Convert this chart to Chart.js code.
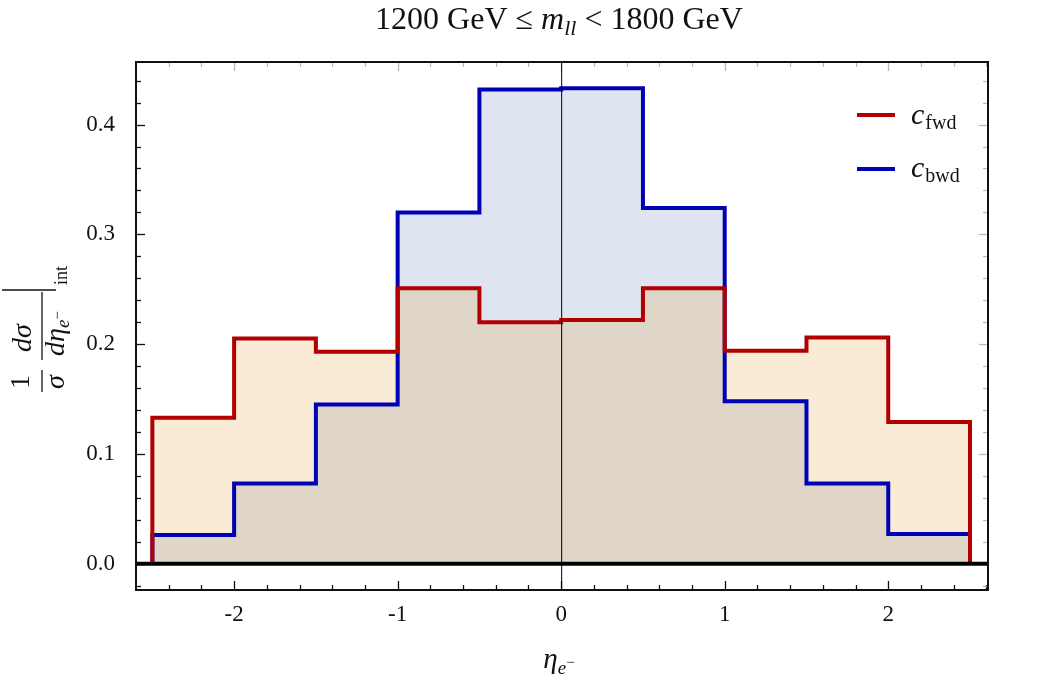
<!DOCTYPE html>
<html>
<head>
<meta charset="utf-8">
<script src="https://cdn.jsdelivr.net/npm/chart.js@4.4.1/dist/chart.umd.min.js"></script>
<style>
  body { margin: 0; background: #fff; }
  #wrap { width: 1042px; height: 690px; }
</style>
</head>
<body>
<div id="wrap"><canvas id="histChart" width="1042" height="690"></canvas></div>
<script>
// bin edges in eta and the two normalised distributions
var edges = [-2.5, -2, -1.5, -1, -0.5, 0, 0.5, 1, 1.5, 2, 2.5];
var cFwd = [0.133, 0.205, 0.193, 0.251, 0.220, 0.222, 0.251, 0.194, 0.206, 0.129];
var cBwd = [0.026, 0.073, 0.145, 0.320, 0.432, 0.433, 0.324, 0.148, 0.073, 0.027];
var xTickVals = [-2, -1, 0, 1, 2];
var yTickVals = [0, 0.1, 0.2, 0.3, 0.4];

var RED = '#b20000', BLUE = '#0000b4';
var FILL_FWD = 'rgb(249,235,214)', FILL_BWD = 'rgb(222,228,240)', FILL_BOTH = 'rgb(223,214,199)';
var SERIF = '"Liberation Serif", "DejaVu Serif", serif';

// histogram outline: drop to zero at both outer edges
function stepPoints(vals) {
    var pts = [{x: edges[0], y: 0}];
    vals.forEach(function(v, i) { pts.push({x: edges[i], y: v}); });
    pts.push({x: edges[edges.length - 1], y: vals[vals.length - 1]});
    pts.push({x: edges[edges.length - 1], y: 0});
    return pts;
}
var cBoth = cFwd.map(function(v, i) { return Math.min(v, cBwd[i]); });

function lineSet(vals, color, bg, fill) {
    return {
        data: stepPoints(vals),
        borderColor: color || 'rgba(0,0,0,0)',
        borderWidth: color ? 4 : 0,
        backgroundColor: bg || 'rgba(0,0,0,0)',
        fill: fill ? 'origin' : false,
        stepped: true,
        pointRadius: 0,
        borderJoinStyle: 'miter',
        borderCapStyle: 'butt'
    };
}

// draws text runs left to right, each {t, font, dy}
function runsWidth(ctx, runs) {
    var w = 0;
    runs.forEach(function(r) { ctx.font = r.font; w += ctx.measureText(r.t).width + (r.dx || 0); });
    return w;
}
function drawRuns(ctx, runs, x, y) {
    ctx.textAlign = 'left';
    ctx.textBaseline = 'alphabetic';
    runs.forEach(function(r) {
        ctx.font = r.font;
        x += (r.dx || 0);
        ctx.fillText(r.t, x, y + (r.dy || 0));
        x += ctx.measureText(r.t).width;
    });
}

var framePlugin = {
    id: 'frame',
    afterDatasetsDraw: function(chart) {
        var ctx = chart.ctx, a = chart.chartArea;
        var xs = chart.scales.x, ys = chart.scales.y;
        ctx.save();

        // inward ticks, minor every 0.2 / 0.02
        var i, v, p, len;
        ctx.lineWidth = 1.3;
        for (i = -13; i <= 13; i++) {
            v = i * 0.2;
            if (v <= xs.min || v >= xs.max) continue;
            p = Math.round(xs.getPixelForValue(v)) + 0.5;
            len = (i % 5 === 0) ? 9 : 5;
            ctx.strokeStyle = '#111';
            ctx.beginPath(); ctx.moveTo(p, a.bottom); ctx.lineTo(p, a.bottom - len); ctx.stroke();
            ctx.strokeStyle = '#b8b8b8';
            ctx.beginPath(); ctx.moveTo(p, a.top); ctx.lineTo(p, a.top + len); ctx.stroke();
        }
        for (i = -1; i <= 22; i++) {
            v = i * 0.02;
            if (v <= ys.min || v >= ys.max) continue;
            p = Math.round(ys.getPixelForValue(v)) + 0.5;
            len = (i % 5 === 0) ? 9 : 5;
            ctx.strokeStyle = '#111';
            ctx.beginPath(); ctx.moveTo(a.left, p); ctx.lineTo(a.left + len, p); ctx.stroke();
            ctx.strokeStyle = '#b8b8b8';
            ctx.beginPath(); ctx.moveTo(a.right, p); ctx.lineTo(a.right - len, p); ctx.stroke();
        }

        // zero line and eta = 0 line
        ctx.strokeStyle = '#000';
        ctx.lineWidth = 4;
        ctx.beginPath();
        ctx.moveTo(a.left, ys.getPixelForValue(0));
        ctx.lineTo(a.right, ys.getPixelForValue(0));
        ctx.stroke();
        ctx.lineWidth = 1;
        ctx.beginPath();
        ctx.moveTo(xs.getPixelForValue(0) + 0.5, a.top);
        ctx.lineTo(xs.getPixelForValue(0) + 0.5, a.bottom);
        ctx.stroke();

        // frame
        ctx.strokeStyle = '#111';
        ctx.lineWidth = 2;
        ctx.strokeRect(a.left, a.top, a.right - a.left, a.bottom - a.top);

        // legend
        ctx.lineWidth = 4;
        ctx.strokeStyle = RED;
        ctx.beginPath(); ctx.moveTo(857, 115); ctx.lineTo(895, 115); ctx.stroke();
        ctx.strokeStyle = BLUE;
        ctx.beginPath(); ctx.moveTo(857, 169); ctx.lineTo(895, 169); ctx.stroke();
        ctx.fillStyle = '#111';
        drawRuns(ctx, [{t: 'c', font: 'italic 30px ' + SERIF}, {t: 'fwd', font: '20px ' + SERIF, dy: 5, dx: 1}], 911, 124);
        drawRuns(ctx, [{t: 'c', font: 'italic 30px ' + SERIF}, {t: 'bwd', font: '20px ' + SERIF, dy: 5, dx: 1}], 911, 177);

        // title
        var title = [
            {t: '1200 GeV \u2264 ', font: '32px ' + SERIF},
            {t: 'm', font: 'italic 32px ' + SERIF},
            {t: 'll', font: 'italic 22px ' + SERIF, dy: 6},
            {t: ' < 1800 GeV', font: '32px ' + SERIF}
        ];
        drawRuns(ctx, title, 559 - runsWidth(ctx, title) / 2, 29);

        // x axis label
        var xl = [
            {t: '\u03b7', font: 'italic 29px ' + SERIF},
            {t: 'e', font: 'italic 19px ' + SERIF, dy: 6},
            {t: '\u2212', font: '15px ' + SERIF, dy: -1}
        ];
        drawRuns(ctx, xl, 559 - runsWidth(ctx, xl) / 2, 668);

        // y axis label, rotated to read upwards
        ctx.translate(42, 392);
        ctx.rotate(-Math.PI / 2);
        drawRuns(ctx, [{t: '1', font: '28px ' + SERIF}], 3, -13);
        drawRuns(ctx, [{t: '\u03c3', font: 'italic 28px ' + SERIF}], 3, 22);
        drawRuns(ctx, [{t: 'd\u03c3', font: 'italic 28px ' + SERIF}], 40, -11);
        drawRuns(ctx, [
            {t: 'd\u03b7', font: 'italic 28px ' + SERIF},
            {t: 'e', font: 'italic 19px ' + SERIF, dy: 5},
            {t: '\u2212', font: '15px ' + SERIF, dy: -2}
        ], 36, 22);
        ctx.lineWidth = 1.3;
        ctx.strokeStyle = '#111';
        ctx.beginPath(); ctx.moveTo(0, 0); ctx.lineTo(22, 0); ctx.stroke();
        ctx.beginPath(); ctx.moveTo(32, 0); ctx.lineTo(100, 0); ctx.stroke();
        ctx.beginPath(); ctx.moveTo(102, -40); ctx.lineTo(102, 14); ctx.stroke();
        drawRuns(ctx, [{t: 'int', font: '18px ' + SERIF}], 107, 25);

        ctx.restore();
    }
};

var ctx = document.getElementById('histChart').getContext('2d');
var histChart = new Chart(ctx, {
    type: 'line',
    data: {
        datasets: [
            lineSet(cFwd, RED, null, false),          // red outline, drawn last
            lineSet(cBoth, null, FILL_BOTH, true),    // overlap of both fills
            lineSet(cBwd, BLUE, FILL_BWD, true),
            lineSet(cFwd, null, FILL_FWD, true)       // red fill, drawn first
        ]
    },
    options: {
        responsive: false,
        animation: false,
        events: [],
        layout: { padding: { top: 62, right: 54, left: 0, bottom: 0 } },
        plugins: {
            legend: { display: false },
            tooltip: { enabled: false },
            filler: { drawTime: 'beforeDatasetsDraw' }
        },
        scales: {
            x: {
                type: 'linear',
                min: -2.6,
                max: 2.61,
                afterFit: function(s) { s.height = 100; },
                afterBuildTicks: function(s) { s.ticks = xTickVals.map(function(v) { return {value: v}; }); },
                ticks: {
                    color: '#111',
                    padding: 3,
                    maxRotation: 0,
                    font: { family: SERIF, size: 23 },
                    callback: function(v) { return v < 0 ? '-' + Math.abs(v) : String(v); }
                },
                grid: { display: false },
                border: { display: false }
            },
            y: {
                min: -0.024,
                max: 0.457,
                afterFit: function(s) { s.width = 136; },
                afterBuildTicks: function(s) { s.ticks = yTickVals.map(function(v) { return {value: v}; }); },
                ticks: {
                    color: '#111',
                    padding: 13,
                    font: { family: SERIF, size: 23 },
                    callback: function(v) { return v.toFixed(1); }
                },
                grid: { display: false },
                border: { display: false }
            }
        }
    },
    plugins: [framePlugin]
});
</script>
</body>
</html>
